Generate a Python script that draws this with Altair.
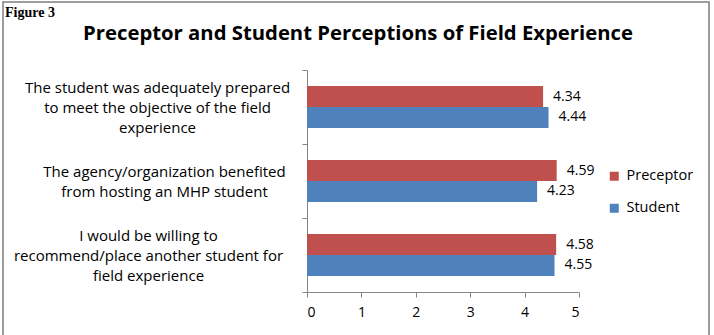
import altair as alt
import pandas as pd

# Survey statements (line breaks marked with "|") and mean ratings
statements = [
    "The student was adequately prepared|to meet the objective of the field|experience",
    "The agency/organization benefited|from hosting an MHP student",
    "I would be willing to|recommend/place another student for|field experience",
]
groups = ["Preceptor", "Student"]
preceptor_scores = [4.34, 4.59, 4.58]
student_scores = [4.44, 4.23, 4.55]
x_ticks = [0, 1, 2, 3, 4, 5]

rows = []
for s, p, st in zip(statements, preceptor_scores, student_scores):
    rows.append({"statement": s, "group": "Preceptor", "score": p})
    rows.append({"statement": s, "group": "Student", "score": st})
df = pd.DataFrame(rows)

FONT = "Open Sans"
GRAY = "#868686"
LINE_H = 20

y_enc = alt.Y(
    "statement:N",
    sort=statements,
    title=None,
    scale=alt.Scale(paddingInner=0, paddingOuter=0),
    axis=alt.Axis(
        tickBand="extent",
        labelExpr="split(datum.label, '|')",
        labelAlign="center",
        labelBaseline="middle",
        labelLineHeight=LINE_H,
        labelFont=FONT,
        labelFontSize=15,
        labelColor="#000000",
        labelLimit=400,
        labelOffset=alt.ExprRef(
            expr=f"-(length(split(datum.value, '|')) - 1) * {LINE_H / 2}"
        ),
        labelPadding=alt.ExprRef(
            expr=f"datum.value == '{statements[0]}' ? 145 : datum.value == '{statements[1]}' ? 138 : 154"
        ),
        domainColor=GRAY,
        tickColor=GRAY,
        tickSize=5,
    ),
)
yoff_enc = alt.YOffset(
    "group:N",
    sort=groups,
    scale=alt.Scale(paddingInner=0, paddingOuter=0.762),
)
x_enc = alt.X(
    "score:Q",
    title=None,
    scale=alt.Scale(domain=[0, 5], nice=False),
    axis=alt.Axis(
        values=x_ticks,
        grid=False,
        format="d",
        labelFont=FONT,
        labelFontSize=14,
        labelColor="#000000",
        labelPadding=8,
        domainColor=GRAY,
        tickColor=GRAY,
        tickSize=5,
    ),
)

bars = alt.Chart(df).mark_bar().encode(
    x=x_enc,
    y=y_enc,
    yOffset=yoff_enc,
    color=alt.Color(
        "group:N",
        sort=groups,
        scale=alt.Scale(domain=groups, range=["#C0504D", "#4F81BD"]),
        legend=alt.Legend(
            title=None,
            orient="none",
            legendX=300,
            legendY=99,
            symbolType="square",
            symbolSize=81,
            symbolStrokeWidth=0,
            labelFont=FONT,
            labelFontSize=14.5,
            labelColor="#000000",
            labelOffset=5,
            rowPadding=17,
        ),
    ),
)

# Value labels just past the end of each bar
values = alt.Chart(df).mark_text(
    align="left", baseline="middle", dx=10, font=FONT, fontSize=14, color="#000000"
).encode(
    x=alt.X("score:Q", stack=None),
    y=alt.Y("statement:N", sort=statements),
    yOffset=alt.YOffset("group:N", sort=groups),
    text=alt.Text("score:Q", format=".2f"),
)

# Chart title and figure number placed above the plot
title = alt.Chart(pd.DataFrame({"t": ["Preceptor and Student Perceptions of Field Experience"]})).mark_text(
    align="center", baseline="alphabetic", font=FONT, fontSize=20.3, fontWeight="bold", color="#000000"
).encode(x=alt.value(51), y=alt.value(-30), text="t:N")

fig_label = alt.Chart(pd.DataFrame({"t": ["Figure 3"]})).mark_text(
    align="left", baseline="alphabetic", font="Liberation Serif", fontSize=14, fontWeight="bold", color="#000000"
).encode(x=alt.value(-302), y=alt.value(-53), text="t:N")

# Outer frame around the figure
frame = alt.Chart(pd.DataFrame({"k": [0]})).mark_rect(
    fill=None, stroke="#7f7f7f", strokeWidth=1.5
).encode(x=alt.value(-304), x2=alt.value(402), y=alt.value(-68), y2=alt.value(280))

chart = alt.layer(frame, bars, values, title, fig_label).properties(
    width=272,
    height=222,
    autosize=alt.AutoSizeParams(type="none"),
    padding={"left": 307, "top": 70, "right": 135, "bottom": 43},
    background="white",
).configure_view(stroke=None)

chart.save("out.html", embed_options={"renderer": "svg", "actions": False})
